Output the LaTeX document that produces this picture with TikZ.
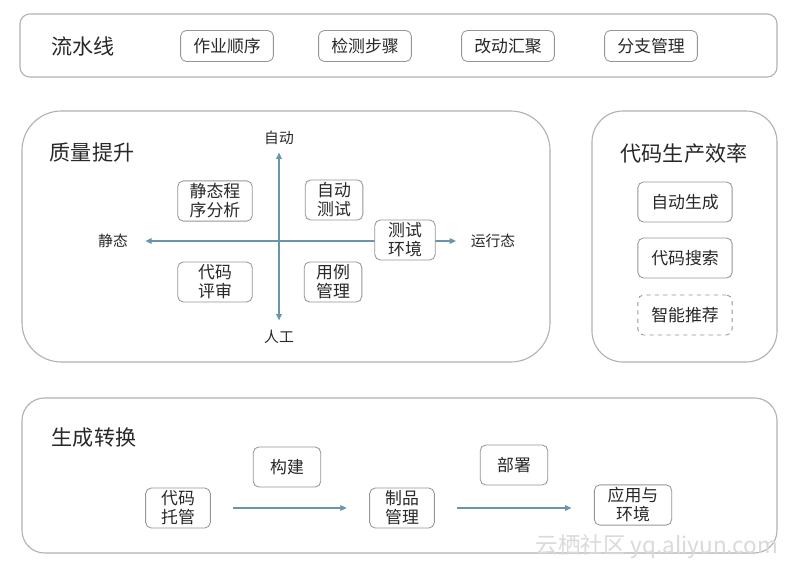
\documentclass[tikz,border=0pt]{standalone}
\usepackage{fontspec}
\setmainfont{Noto Sans CJK SC}
\usepackage{xcolor}
\usepackage{tikz}
\usetikzlibrary{positioning,arrows.meta}
\definecolor{panelline}{RGB}{178,178,178}
\definecolor{boxline}{RGB}{150,150,150}
\definecolor{axisblue}{RGB}{105,150,170}
\definecolor{labeldark}{RGB}{40,40,40}
\definecolor{watermark}{RGB}{218,218,218}

\begin{document}
\begin{tikzpicture}[x=0.025cm, y=-0.025cm, panel/.style={draw=panelline, line width=0.8pt}, title/.style={text=labeldark, font=\fontsize{15}{18}\selectfont}, item/.style={draw=boxline, fill=white, rounded corners=4pt, line width=0.6pt, inner sep=2pt, align=center, text=labeldark, font=\fontsize{12}{13.5}\selectfont}, axislabel/.style={text=labeldark, font=\fontsize{10.5}{12}\selectfont}, axis/.style={{Triangle[length=4.5pt,width=4pt]}-{Triangle[length=4.5pt,width=4pt]}, draw=axisblue, line width=0.8pt}, flow/.style={-{Triangle[length=4.5pt,width=4pt]}, draw=axisblue, line width=0.8pt}]
\useasboundingbox (0,0) rectangle (794,571);
\fill[white] (0,0) rectangle (794,571);
\draw[panel, rounded corners=7pt] (20,14) rectangle (777,77);
\draw[panel, rounded corners=28pt] (22,111) rectangle (550,362);
\draw[panel, rounded corners=22pt] (592,111) rectangle (777,362);
\draw[panel, rounded corners=16pt] (22,398) rectangle (777,553);
\node[title] (lsx) at (83,46) {流水线};
\node[title] (zlts) at (92,153) {质量提升};
\node[title] (dmsc) at (684,153) {代码生产效率};
\node[title] (sczh) at (94,438) {生成转换};
\node[item, minimum width=66pt, minimum height=22pt] (zysx) at (227,46) {作业顺序};
\node[item, minimum width=66pt, minimum height=22pt] (jcbz) at (365,46) {检测步骤};
\node[item, minimum width=66pt, minimum height=22pt] (gdhj) at (508,46) {改动汇聚};
\node[item, minimum width=66pt, minimum height=22pt] (fzgl) at (651,46) {分支管理};
\node[axislabel] (auto) at (279,138) {自动};
\node[axislabel] (manual) at (279,337) {人工};
\node[axislabel] (static) at (113,241) {静态};
\node[axislabel] (runtime) at (493,241) {运行态};
\draw[axis, shorten <=2pt, shorten >=3.5pt] (auto) -- (manual);
\draw[axis, shorten <=9pt, shorten >=7pt] (static) -- (runtime);
\node[item, minimum width=53pt, minimum height=28.5pt] (jtfx) at (215,201) {静态程\\序分析};
\node[item, minimum width=41pt, minimum height=28.5pt] (zdcs) at (334,200) {自动\\测试};
\node[item, minimum width=53pt, minimum height=28.5pt] (dmps) at (215,282) {代码\\评审};
\node[item, minimum width=41pt, minimum height=28.5pt] (ylgl) at (333,282) {用例\\管理};
\node[item, minimum width=43pt, minimum height=28.5pt] (csjj) at (405,240) {测试\\环境};
\node[item, minimum width=67pt, minimum height=28.5pt] (zdsc) at (685,202) {自动生成};
\node[item, minimum width=67pt, minimum height=28.5pt] (dmss) at (685,258) {代码搜索};
\node[item, dashed, minimum width=67pt, minimum height=28.5pt] (zntj) at (685,315) {智能推荐};
\node[item, minimum width=46pt, minimum height=28.5pt] (dmtg) at (178,508) {代码\\托管};
\node[item, minimum width=48pt, minimum height=28.5pt] (gj) at (287,467) {构建};
\node[item, minimum width=46pt, minimum height=28.5pt] (zpgl) at (402,508) {制品\\管理};
\node[item, minimum width=48pt, minimum height=28.5pt] (bs) at (514,465) {部署};
\node[item, minimum width=55pt, minimum height=28.5pt] (yyhj) at (633,505) {应用与\\环境};
\draw[flow, shorten <=16pt, shorten >=16pt] (dmtg) -- (zpgl);
\draw[flow, shorten <=16pt, shorten >=16pt] (zpgl.east) -- (zpgl.east -| yyhj.west);
\node[text=watermark, font=\fontsize{16}{18}\selectfont] (wm) at (657,547) {云栖社区 yq.aliyun.com};
\end{tikzpicture}
\end{document}
